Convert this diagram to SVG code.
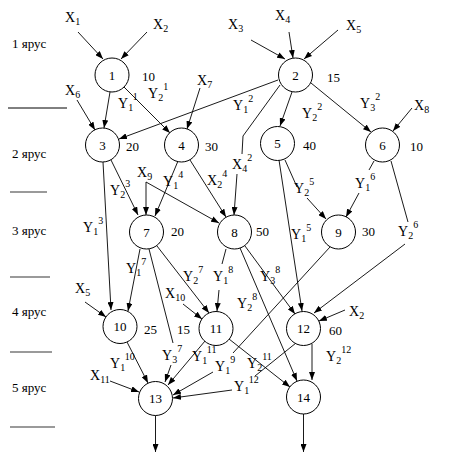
<svg xmlns="http://www.w3.org/2000/svg" width="449" height="465" viewBox="0 0 449 465">
<defs>
<marker id="ah" markerUnits="userSpaceOnUse" markerWidth="8" markerHeight="6" refX="8" refY="3" orient="auto">
<path d="M0,0 L8,3 L0,6 z" fill="#000"/>
</marker>
<style>
text{font-family:"Liberation Serif","Times New Roman",serif;font-size:13px;fill:#000}
#labels text{font-size:14px}
#labels .s{font-size:10px}
.n{text-anchor:middle}
circle{fill:#fff;stroke:#000;stroke-width:1}
#edges path{fill:none;stroke:#000;stroke-width:0.9}
.arr{marker-end:url(#ah)}
.sep{stroke:#9a9a9a;stroke-width:2}
</style>
</defs>
<rect width="449" height="465" fill="#fff"/>

<g id="tiers">
<text x="12" y="48">1 ярус</text>
<text x="12" y="158">2 ярус</text>
<text x="12" y="235">3 ярус</text>
<text x="12" y="316">4 ярус</text>
<text x="12" y="392">5 ярус</text>
<line x1="8" y1="108" x2="67" y2="108" stroke="#000" stroke-width="1"/>
<line class="sep" x1="10" y1="192" x2="47" y2="192"/>
<line class="sep" x1="10" y1="277" x2="50" y2="277"/>
<line class="sep" x1="10" y1="352" x2="52" y2="352"/>
<line class="sep" x1="10" y1="427" x2="55" y2="427"/>
</g>

<g id="edges">
<path class="arr" d="M78,32 L103,59"/>
<path class="arr" d="M147,32 L121,59"/>
<path class="arr" d="M251,40 L285,59"/>
<path class="arr" d="M289,32 L293,58"/>
<path class="arr" d="M338,30 L304,59"/>
<path class="arr" d="M110,92 L104,128"/>
<path class="arr" d="M124,87 L170,133"/>
<path class="arr" d="M77,100 L95,130"/>
<path class="arr" d="M200,88 L187,129"/>
<path class="arr" d="M278,80 L119,139"/>
<path class="arr" d="M292,92 L280,126"/>
<path class="arr" d="M311,83 L371,132"/>
<path class="arr" d="M412,108 L393,131"/>
<path d="M280,85 L243,136 L242,154"/>
<path class="arr" d="M237,174 L234,215"/>
<path class="arr" d="M103,162 L111,310"/>
<path class="arr" d="M111,160 L138,215"/>
<path class="arr" d="M146,182 L146,215"/>
<path class="arr" d="M146,182 L219,223"/>
<path class="arr" d="M178,161 L155,216"/>
<path class="arr" d="M190,160 L226,217"/>
<path class="arr" d="M279,160 L302,311"/>
<path d="M285,160 L297,187"/>
<path class="arr" d="M307,198 L326,219"/>
<path d="M374,161 L369,170"/>
<path class="arr" d="M359,193 L346,217"/>
<path d="M391,161 L408,222"/>
<path class="arr" d="M405,244 L314,313"/>
<path class="arr" d="M140,249 L128,311"/>
<path d="M149,249 L173,343"/>
<path class="arr" d="M171,365 L165,382"/>
<path class="arr" d="M157,246 L209,313"/>
<path class="arr" d="M183,304 L202,319"/>
<path class="arr" d="M85,302 L106,317"/>
<path d="M226,249 L222,264"/>
<path class="arr" d="M219,290 L217,311"/>
<path class="arr" d="M240,248 L297,381"/>
<path class="arr" d="M245,246 L295,314"/>
<path d="M330,247 L233,353"/>
<path class="arr" d="M213,372 L173,395"/>
<path class="arr" d="M229,339 L290,387"/>
<path class="arr" d="M205,341 L168,385"/>
<path d="M296,343 L255,376"/>
<path class="arr" d="M232,390 L173,398"/>
<path class="arr" d="M312,344 L312,380"/>
<path class="arr" d="M345,310 L319,321"/>
<path class="arr" d="M127,342 L148,383"/>
<path class="arr" d="M110,381 L139,392"/>
<path class="arr" d="M155.5,415.5 L155.5,452"/>
<path class="arr" d="M303.5,414 L303.5,452"/>
</g>

<g id="labels">
<text x="65" y="22">X<tspan class="s" dy="3">1</tspan></text>
<text x="153" y="29">X<tspan class="s" dy="3">2</tspan></text>
<text x="228" y="29">X<tspan class="s" dy="3">3</tspan></text>
<text x="275" y="20">X<tspan class="s" dy="3">4</tspan></text>
<text x="346" y="30">X<tspan class="s" dy="3">5</tspan></text>
<text x="65" y="95">X<tspan class="s" dy="3">6</tspan></text>
<text x="197" y="85">X<tspan class="s" dy="3">7</tspan></text>
<text x="414" y="110">X<tspan class="s" dy="3">8</tspan></text>
<text x="137" y="177">X<tspan class="s" dy="3">9</tspan></text>
<text x="165" y="298">X<tspan class="s" dy="3">10</tspan></text>
<text x="75" y="293">X<tspan class="s" dy="3">5</tspan></text>
<text x="90" y="380">X<tspan class="s" dy="3">11</tspan></text>
<text x="349" y="316">X<tspan class="s" dy="3">2</tspan></text>
<text x="118" y="108">Y<tspan class="s" dy="3">1</tspan><tspan class="s" dy="-11">1</tspan></text>
<text x="148" y="98">Y<tspan class="s" dy="3">2</tspan><tspan class="s" dy="-11">1</tspan></text>
<text x="233" y="110">Y<tspan class="s" dy="3">1</tspan><tspan class="s" dy="-11">2</tspan></text>
<text x="302" y="118">Y<tspan class="s" dy="3">2</tspan><tspan class="s" dy="-11">2</tspan></text>
<text x="360" y="108">Y<tspan class="s" dy="3">3</tspan><tspan class="s" dy="-11">2</tspan></text>
<text x="232" y="169">X<tspan class="s" dy="3">4</tspan><tspan class="s" dy="-11">2</tspan></text>
<text x="110" y="195">Y<tspan class="s" dy="3">2</tspan><tspan class="s" dy="-11">3</tspan></text>
<text x="83" y="232">Y<tspan class="s" dy="3">1</tspan><tspan class="s" dy="-11">3</tspan></text>
<text x="163" y="186">Y<tspan class="s" dy="3">1</tspan><tspan class="s" dy="-11">4</tspan></text>
<text x="207" y="185">X<tspan class="s" dy="3">2</tspan><tspan class="s" dy="-11">4</tspan></text>
<text x="294" y="193">Y<tspan class="s" dy="3">2</tspan><tspan class="s" dy="-11">5</tspan></text>
<text x="291" y="239">Y<tspan class="s" dy="3">1</tspan><tspan class="s" dy="-11">5</tspan></text>
<text x="355" y="188">Y<tspan class="s" dy="3">1</tspan><tspan class="s" dy="-11">6</tspan></text>
<text x="398" y="236">Y<tspan class="s" dy="3">2</tspan><tspan class="s" dy="-11">6</tspan></text>
<text x="126" y="273">Y<tspan class="s" dy="3">1</tspan><tspan class="s" dy="-11">7</tspan></text>
<text x="183" y="281">Y<tspan class="s" dy="3">2</tspan><tspan class="s" dy="-11">7</tspan></text>
<text x="162" y="360">Y<tspan class="s" dy="3">3</tspan><tspan class="s" dy="-11">7</tspan></text>
<text x="213" y="281">Y<tspan class="s" dy="3">1</tspan><tspan class="s" dy="-11">8</tspan></text>
<text x="260" y="281">Y<tspan class="s" dy="3">3</tspan><tspan class="s" dy="-11">8</tspan></text>
<text x="237" y="308">Y<tspan class="s" dy="3">2</tspan><tspan class="s" dy="-11">8</tspan></text>
<text x="215" y="371">Y<tspan class="s" dy="3">1</tspan><tspan class="s" dy="-11">9</tspan></text>
<text x="110" y="368">Y<tspan class="s" dy="3">1</tspan><tspan class="s" dy="-11">10</tspan></text>
<text x="192" y="361">Y<tspan class="s" dy="3">1</tspan><tspan class="s" dy="-11">11</tspan></text>
<text x="247" y="368">Y<tspan class="s" dy="3">2</tspan><tspan class="s" dy="-11">11</tspan></text>
<text x="234" y="391">Y<tspan class="s" dy="3">1</tspan><tspan class="s" dy="-11">12</tspan></text>
<text x="326" y="361">Y<tspan class="s" dy="3">2</tspan><tspan class="s" dy="-11">12</tspan></text>
</g>

<g id="node1"><circle cx="112" cy="75" r="17"/><text class="n" x="112" y="79.5">1</text><text x="142" y="81">10</text></g>
<g id="node2"><circle cx="295.5" cy="75" r="17"/><text class="n" x="295.5" y="79.5">2</text><text x="327" y="82">15</text></g>
<g id="node3"><circle cx="102.5" cy="145" r="17"/><text class="n" x="102.5" y="149.5">3</text><text x="126" y="151">20</text></g>
<g id="node4"><circle cx="181.5" cy="145" r="17"/><text class="n" x="181.5" y="149.5">4</text><text x="205" y="151">30</text></g>
<g id="node5"><circle cx="277.5" cy="143.5" r="17"/><text class="n" x="277.5" y="148">5</text><text x="303" y="150">40</text></g>
<g id="node6"><circle cx="382.5" cy="145" r="17"/><text class="n" x="382.5" y="149.5">6</text><text x="410" y="151">10</text></g>
<g id="node7"><circle cx="146.5" cy="232" r="17"/><text class="n" x="146.5" y="236.5">7</text><text x="171" y="236">20</text></g>
<g id="node8"><circle cx="234.5" cy="232" r="17"/><text class="n" x="234.5" y="236.5">8</text><text x="256" y="236">50</text></g>
<g id="node9"><circle cx="338.5" cy="232" r="17"/><text class="n" x="338.5" y="236.5">9</text><text x="362" y="236">30</text></g>
<g id="node10"><circle cx="120" cy="326.5" r="17"/><text class="n" x="120" y="331">10</text><text x="144" y="334">25</text></g>
<g id="node11"><circle cx="216" cy="328.5" r="17"/><text class="n" x="216" y="333">11</text><text x="177" y="334">15</text></g>
<g id="node12"><circle cx="303.5" cy="328.5" r="17"/><text class="n" x="303.5" y="333">12</text><text x="329" y="335">60</text></g>
<g id="node13"><circle cx="155.5" cy="398.5" r="17"/><text class="n" x="155.5" y="403">13</text></g>
<g id="node14"><circle cx="303.5" cy="397" r="17"/><text class="n" x="303.5" y="401.5">14</text></g>
</svg>
